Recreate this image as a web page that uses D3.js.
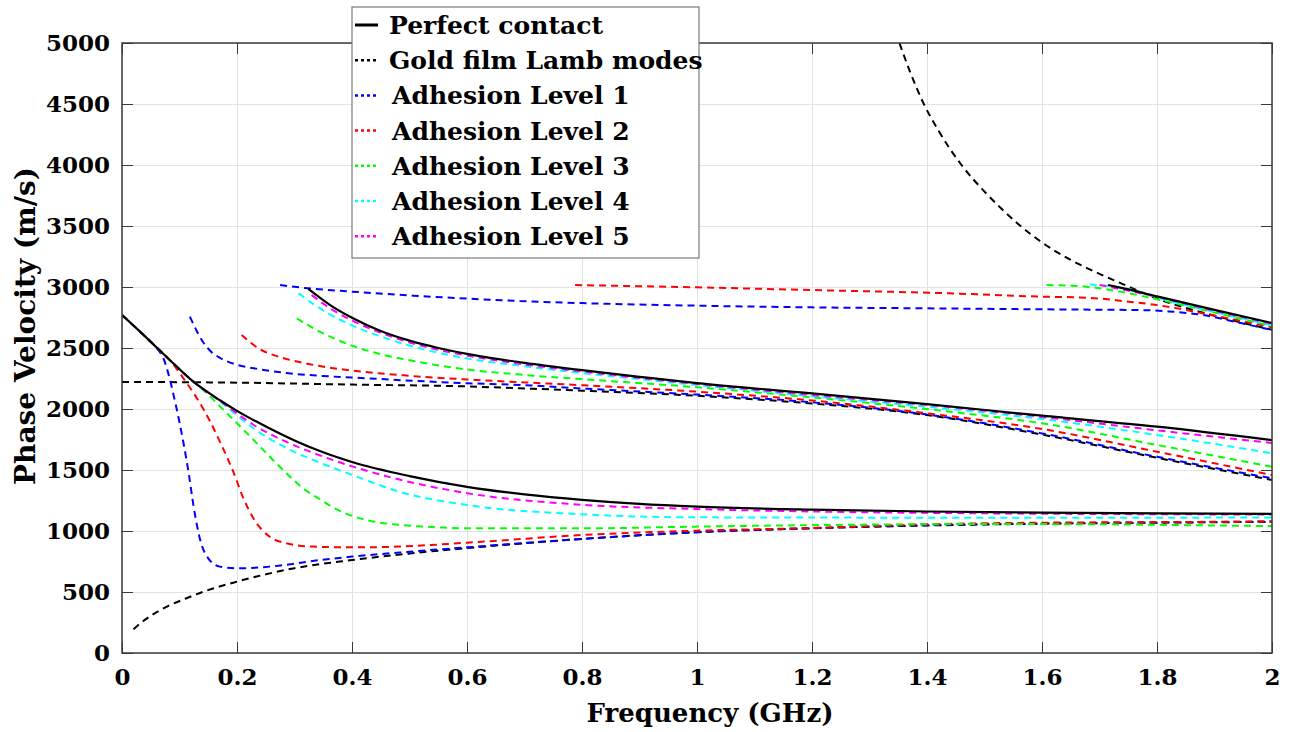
<!DOCTYPE html>
<html>
<head>
<meta charset="utf-8">
<script src="https://cdn.jsdelivr.net/npm/d3@7"></script>
<style>
body { margin: 0; background: #fff; }
text { font-family: "DejaVu Serif", serif; font-weight: bold; fill: #000; }
</style>
</head>
<body>
<div id="chart"></div>
<script>
// tick values
const xTicks = [0, 0.2, 0.4, 0.6, 0.8, 1, 1.2, 1.4, 1.6, 1.8, 2];
const yTicks = [0, 500, 1000, 1500, 2000, 2500, 3000, 3500, 4000, 4500, 5000];

// [frequency GHz, phase velocity m/s]
const perfect1 = [[0,2770],[0.03,2640],[0.055,2528],[0.0835,2400],[0.124,2224],[0.171,2070],[0.2,1985],[0.257,1840],[0.3,1742],[0.344,1655],[0.4,1565],[0.5,1450],[0.6,1362],[0.7,1300],[0.8,1255],[0.9,1222],[1.0,1200],[1.2,1175],[1.4,1160],[1.6,1150],[1.8,1145],[2.0,1140]];
const perfect2 = [[0.324,2984],[0.362,2852],[0.4,2748],[0.45,2639],[0.5,2560],[0.55,2500],[0.6,2452],[0.7,2378],[0.8,2318],[0.9,2264],[1.0,2212],[1.2,2128],[1.4,2040],[1.6,1945],[1.8,1855],[2.0,1745]];
const perfect3 = [[1.715,3016],[1.75,2980],[1.8,2923],[1.9,2812],[2.0,2705]];

const lamb1 = [[0.02,195],[0.035,255],[0.05,305],[0.08,385],[0.11,445],[0.14,500],[0.2,585],[0.3,695],[0.4,762],[0.5,815],[0.6,860],[0.8,935],[1.0,990],[1.2,1022],[1.4,1045],[1.6,1060],[1.8,1068],[2.0,1075]];
const lamb2 = [[0,2222],[0.2,2216],[0.4,2200],[0.6,2185],[0.692,2170],[0.8,2150],[1.0,2108],[1.2,2045],[1.4,1950],[1.6,1790],[1.8,1600],[2.0,1418]];
const lamb3 = [[1.345,5090],[1.352,5000],[1.37,4770],[1.394,4505],[1.42,4282],[1.44,4132],[1.46,4000],[1.5,3782],[1.53,3640],[1.559,3515],[1.6,3365],[1.65,3222],[1.7,3108],[1.75,3005],[1.8,2905],[1.9,2765],[2.0,2650]];

const level1a = [[0,2770],[0.03,2640],[0.055,2528],[0.063,2484],[0.072,2416],[0.0835,2238],[0.089,2128],[0.098,1937],[0.107,1719],[0.116,1473],[0.1246,1199],[0.136,926],[0.15,776],[0.17,708],[0.2,694],[0.257,708],[0.344,762],[0.4,790],[0.5,830],[0.6,866],[0.8,935],[1.0,990],[1.2,1024],[1.4,1048],[1.6,1062],[1.8,1070],[2.0,1078]];
const level1b = [[0.118,2757],[0.13,2640],[0.1415,2545],[0.155,2470],[0.171,2418],[0.2,2362],[0.229,2334],[0.286,2295],[0.344,2272],[0.4,2258],[0.6,2211],[0.692,2197],[0.8,2168],[1.0,2118],[1.2,2055],[1.4,1955],[1.6,1800],[1.8,1608],[2.0,1432]];
const level1c = [[0.275,3016],[0.324,2989],[0.4,2962],[0.507,2929],[0.6,2905],[0.692,2885],[0.8,2868],[1.0,2847],[1.2,2833],[1.4,2825],[1.6,2817],[1.78,2810],[1.82,2800],[1.88,2770],[1.94,2710],[2.0,2648]];

const level2a = [[0,2770],[0.03,2640],[0.055,2528],[0.0835,2400],[0.107,2250],[0.13,2090],[0.153,1900],[0.171,1725],[0.194,1480],[0.211,1270],[0.229,1100],[0.257,953],[0.286,899],[0.333,872],[0.4,866],[0.48,872],[0.6,904],[0.8,967],[1.0,1003],[1.2,1024],[1.4,1055],[1.6,1068],[1.8,1073],[2.0,1078]];
const level2b = [[0.208,2607],[0.24,2490],[0.275,2425],[0.315,2378],[0.344,2352],[0.4,2315],[0.5,2272],[0.6,2242],[0.7,2218],[0.8,2195],[1.0,2142],[1.2,2070],[1.4,1965],[1.6,1836],[1.8,1650],[2.0,1459]];
const level2c = [[0.788,3016],[1.0,2997],[1.2,2975],[1.44,2948],[1.6,2921],[1.68,2912],[1.75,2880],[1.8,2852],[1.9,2765],[2.0,2670]];

const level3a = [[0,2770],[0.03,2640],[0.055,2528],[0.0835,2400],[0.11,2285],[0.1415,2156],[0.171,2019],[0.2,1883],[0.229,1746],[0.257,1609],[0.286,1473],[0.315,1350],[0.344,1260],[0.37,1185],[0.4,1125],[0.44,1075],[0.484,1050],[0.55,1030],[0.6,1022],[0.8,1022],[1.0,1036],[1.2,1048],[1.5,1057],[1.7,1055],[1.85,1048],[2.0,1040]];
const level3b = [[0.304,2743],[0.333,2661],[0.362,2593],[0.4,2519],[0.449,2451],[0.507,2393],[0.6,2324],[0.692,2282],[0.8,2245],[1.0,2178],[1.2,2095],[1.44,1978],[1.6,1883],[1.8,1705],[2.0,1527]];
const level3c = [[1.608,3016],[1.677,3003],[1.736,2962],[1.8,2900],[1.9,2790],[2.0,2680]];

const level4a = [[0,2770],[0.03,2640],[0.055,2528],[0.0835,2400],[0.124,2224],[0.171,2060],[0.229,1840],[0.286,1680],[0.344,1560],[0.4,1460],[0.484,1320],[0.6,1213],[0.8,1137],[1.0,1112],[1.5,1109],[2.0,1110]];
const level4b = [[0.307,2948],[0.333,2860],[0.362,2775],[0.4,2685],[0.45,2595],[0.5,2520],[0.55,2462],[0.6,2415],[0.7,2350],[0.8,2295],[1.0,2197],[1.2,2105],[1.44,2000],[1.6,1918],[1.8,1787],[2.0,1637]];
const level4c = [[1.683,3020],[1.76,2975],[1.8,2915],[1.9,2795],[2.0,2688]];

const level5a = [[0,2770],[0.03,2640],[0.055,2528],[0.0835,2400],[0.124,2224],[0.171,2065],[0.229,1869],[0.286,1730],[0.344,1620],[0.4,1530],[0.484,1420],[0.6,1310],[0.8,1215],[1.0,1180],[1.2,1160],[1.5,1145],[2.0,1135]];
const level5b = [[0.33,2934],[0.362,2825],[0.4,2725],[0.45,2625],[0.5,2545],[0.55,2485],[0.6,2438],[0.7,2365],[0.8,2308],[1.0,2205],[1.2,2115],[1.4,2033],[1.6,1935],[1.8,1825],[2.0,1722]];
const level5c = [[1.70,3016],[1.8,2920],[1.9,2805],[2.0,2700]];

const legendNames = ["Perfect contact", "Gold film Lamb modes", "Adhesion Level 1", "Adhesion Level 2", "Adhesion Level 3", "Adhesion Level 4", "Adhesion Level 5"];
const colors = ["#000000", "#000000", "#0000ff", "#ff0000", "#00ff00", "#00ffff", "#ff00ff"];

const series = [
  {name: legendNames[1], color: colors[1], dashed: true, branches: [lamb1, lamb2, lamb3]},
  {name: legendNames[2], color: colors[2], dashed: true, branches: [level1a, level1b, level1c]},
  {name: legendNames[3], color: colors[3], dashed: true, branches: [level2a, level2b, level2c]},
  {name: legendNames[4], color: colors[4], dashed: true, branches: [level3a, level3b, level3c]},
  {name: legendNames[5], color: colors[5], dashed: true, branches: [level4a, level4b, level4c]},
  {name: legendNames[6], color: colors[6], dashed: true, branches: [level5a, level5b, level5c]},
  {name: legendNames[0], color: colors[0], dashed: false, branches: [perfect1, perfect2, perfect3]}
];

const width = 1293, height = 732;
const margin = {top: 43, right: 21, bottom: 79, left: 122};

const x = d3.scaleLinear().domain([0, 2]).range([margin.left, width - margin.right]);
const y = d3.scaleLinear().domain([0, 5000]).range([height - margin.bottom, margin.top]);

const svg = d3.select("#chart").append("svg")
  .attr("width", width)
  .attr("height", height);

svg.append("rect").attr("width", width).attr("height", height).attr("fill", "#fff");

// grid
svg.append("g")
  .attr("transform", `translate(0,${y(0)})`)
  .call(d3.axisBottom(x).tickValues(xTicks).tickSize(-(y(0) - y(5000))).tickFormat(""))
  .call(g => g.select(".domain").remove())
  .call(g => g.selectAll("line").attr("stroke", "#e3e3e3").attr("stroke-width", 1));
svg.append("g")
  .attr("transform", `translate(${x(0)},0)`)
  .call(d3.axisLeft(y).tickValues(yTicks).tickSize(-(x(2) - x(0))).tickFormat(""))
  .call(g => g.select(".domain").remove())
  .call(g => g.selectAll("line").attr("stroke", "#e3e3e3").attr("stroke-width", 1));

// curves
svg.append("clipPath").attr("id", "plotclip")
  .append("rect")
  .attr("x", x(0)).attr("y", y(5000))
  .attr("width", x(2) - x(0)).attr("height", y(0) - y(5000));

const line = d3.line()
  .x(d => x(d[0]))
  .y(d => y(d[1]))
  .curve(d3.curveMonotoneX);

const curves = svg.append("g").attr("clip-path", "url(#plotclip)");
series.forEach(s => {
  curves.selectAll(null)
    .data(s.branches)
    .enter()
    .append("path")
    .attr("d", line)
    .attr("fill", "none")
    .attr("stroke", s.color)
    .attr("stroke-width", s.dashed ? 2 : 2.2)
    .attr("stroke-dasharray", s.dashed ? "7,5" : null);
});

// axes with inward ticks
const tickLen = 11;
const axisColor = "#3a3a3a";
const fmt = d3.format("~g");

svg.append("g")
  .attr("transform", `translate(0,${y(0)})`)
  .call(d3.axisBottom(x).tickValues(xTicks).tickSizeInner(-tickLen).tickSizeOuter(0).tickPadding(16).tickFormat(fmt))
  .call(g => g.select(".domain").remove())
  .call(g => g.selectAll("line").attr("stroke", axisColor))
  .call(g => g.selectAll("text").attr("font-size", 23).attr("font-family", null));

svg.append("g")
  .attr("transform", `translate(0,${y(5000)})`)
  .call(d3.axisTop(x).tickValues(xTicks).tickSizeInner(-tickLen).tickSizeOuter(0).tickFormat(""))
  .call(g => g.select(".domain").remove())
  .call(g => g.selectAll("line").attr("stroke", axisColor));

svg.append("g")
  .attr("transform", `translate(${x(0)},0)`)
  .call(d3.axisLeft(y).tickValues(yTicks).tickSizeInner(-tickLen).tickSizeOuter(0).tickPadding(12).tickFormat(fmt))
  .call(g => g.select(".domain").remove())
  .call(g => g.selectAll("line").attr("stroke", axisColor))
  .call(g => g.selectAll("text").attr("font-size", 23).attr("font-family", null));

svg.append("g")
  .attr("transform", `translate(${x(2)},0)`)
  .call(d3.axisRight(y).tickValues(yTicks).tickSizeInner(-tickLen).tickSizeOuter(0).tickFormat(""))
  .call(g => g.select(".domain").remove())
  .call(g => g.selectAll("line").attr("stroke", axisColor));

svg.append("rect")
  .attr("x", x(0)).attr("y", y(5000))
  .attr("width", x(2) - x(0)).attr("height", y(0) - y(5000))
  .attr("fill", "none")
  .attr("stroke", axisColor)
  .attr("stroke-width", 1.5);

// axis labels
svg.append("text")
  .attr("x", 710)
  .attr("y", 722)
  .attr("text-anchor", "middle")
  .attr("font-size", 26)
  .text("Frequency (GHz)");

svg.append("text")
  .attr("transform", "translate(35,326) rotate(-90)")
  .attr("text-anchor", "middle")
  .attr("font-size", 28)
  .text("Phase Velocity (m/s)");

// legend
const legend = svg.append("g");
legend.append("rect")
  .attr("x", 352).attr("y", 7)
  .attr("width", 347).attr("height", 251)
  .attr("fill", "#fff")
  .attr("stroke", "#7a7a7a")
  .attr("stroke-width", 1.2);

const rows = legend.selectAll("g.row")
  .data(legendNames)
  .enter()
  .append("g")
  .attr("class", "row")
  .attr("transform", (d, i) => `translate(0,${25 + i * 35.2})`);

rows.append("line")
  .attr("x1", 355).attr("x2", 378)
  .attr("y1", 0).attr("y2", 0)
  .attr("stroke", (d, i) => colors[i])
  .attr("stroke-width", (d, i) => i === 0 ? 3 : 2.5)
  .attr("stroke-dasharray", (d, i) => i === 0 ? null : "3,3");

rows.append("text")
  .attr("x", (d, i) => i < 2 ? 389 : 392)
  .attr("y", 0)
  .attr("dy", "0.36em")
  .attr("font-size", 25)
  .text(d => d);
</script>
</body>
</html>
